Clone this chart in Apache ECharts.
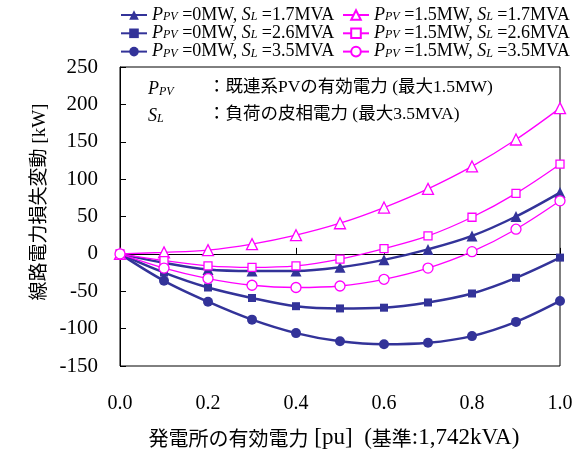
<!DOCTYPE html>
<html>
<head>
<meta charset="utf-8">
<script src="https://cdn.jsdelivr.net/npm/echarts@6/dist/echarts.min.js"></script>
<style>
  html, body { margin: 0; padding: 0; background: #fff; }
  #chart { width: 579px; height: 457px; }
</style>
</head>
<body>
<div id="chart"></div>
<script>
// Plant active power [pu]
const xValues = [0.0, 0.1, 0.2, 0.3, 0.4, 0.5, 0.6, 0.7, 0.8, 0.9, 1.0];

// Line loss variation [kW], PV = 0 MW
const pv0_sl17 = [0, -12, -21, -23, -23, -18, -8, 6, 24, 50, 82];
const pv0_sl26 = [0, -25, -45, -59, -70, -73, -72, -65, -53, -32, -5];
const pv0_sl35 = [0, -36, -64, -88, -106, -117, -121, -119, -110, -91, -63];

// Line loss variation [kW], PV = 1.5 MW
const pv15_sl17 = [0, 2, 5, 13, 25, 41, 62, 87, 117, 153, 195];
const pv15_sl26 = [0, -9, -16, -18, -16, -7, 7, 24, 49, 81, 120];
const pv15_sl35 = [0, -19, -33, -42, -45, -43, -34, -19, 3, 33, 71];

const yTicks = [-150, -100, -50, 0, 50, 100, 150, 200, 250];
const xTicks = [0.0, 0.2, 0.4, 0.6, 0.8, 1.0];

const legendNames = [
  '{i|P}{s|PV} =0MW, {i|S}{s|L} =1.7MVA',
  '{i|P}{s|PV} =0MW, {i|S}{s|L} =2.6MVA',
  '{i|P}{s|PV} =0MW, {i|S}{s|L} =3.5MVA',
  '{i|P}{s|PV} =1.5MW, {i|S}{s|L} =1.7MVA',
  '{i|P}{s|PV} =1.5MW, {i|S}{s|L} =2.6MVA',
  '{i|P}{s|PV} =1.5MW, {i|S}{s|L} =3.5MVA'
];

const SERIF = '"Liberation Serif", "Times New Roman", "Noto Sans CJK JP", serif';
const CJK = '"Noto Sans CJK JP", "Liberation Serif", sans-serif';
const NAVY = '#333399';
const MAGENTA = '#FF00FF';

const legendRich = {
  i: { fontFamily: SERIF, fontSize: 18, fontStyle: 'italic', color: '#000', lineHeight: 16 },
  s: { fontFamily: SERIF, fontSize: 12, fontStyle: 'italic', color: '#000', lineHeight: 9, verticalAlign: 'bottom' }
};
const noteRich = {
  i: { fontFamily: SERIF, fontSize: 18, fontStyle: 'italic', fill: '#000', lineHeight: 18 },
  s: { fontFamily: SERIF, fontSize: 12, fontStyle: 'italic', fill: '#000', lineHeight: 10, verticalAlign: 'bottom' }
};
const titleRich = {
  c: { fontFamily: CJK, fontSize: 20, fill: '#000', lineHeight: 24 },
  r: { fontFamily: SERIF, fontSize: 23, fill: '#000', lineHeight: 24 }
};

function pairs(ys) {
  return xValues.map((x, k) => [x, ys[k]]);
}

function navySeries(name, ys, symbol, size) {
  return {
    name, type: 'line', data: pairs(ys), smooth: 0.35,
    symbol, symbolSize: size,
    lineStyle: { color: NAVY, width: 2.5 },
    itemStyle: { color: NAVY, borderWidth: 0 },
    z: 2
  };
}
function magentaSeries(name, ys, symbol, size) {
  return {
    name, type: 'line', data: pairs(ys), smooth: 0.35,
    symbol, symbolSize: size,
    lineStyle: { color: MAGENTA, width: 1.3 },
    itemStyle: { color: '#fff', borderColor: MAGENTA, borderWidth: 1.3 },
    z: 3
  };
}

const legendCommon = {
  orient: 'vertical', padding: 0, itemWidth: 26, itemHeight: 12, itemGap: 0.3,
  textStyle: { fontFamily: SERIF, fontSize: 18, color: '#000', lineHeight: 16, rich: legendRich }
};

const chart = echarts.init(document.getElementById('chart'), null, { renderer: 'canvas' });

chart.setOption({
  animation: false,
  backgroundColor: '#fff',
  grid: {
    left: 120, top: 67, right: 19, bottom: 91,
    show: true, borderColor: '#000', borderWidth: 1, backgroundColor: 'transparent'
  },
  legend: [
    Object.assign({}, legendCommon, { left: 120, top: 6, data: legendNames.slice(0, 3) }),
    Object.assign({}, legendCommon, { left: 342, top: 6, data: legendNames.slice(3, 6) })
  ],
  xAxis: {
    type: 'value', min: 0, max: 1, interval: 0.2,
    axisLine: { show: true, lineStyle: { color: '#000', width: 1 } },
    axisTick: { show: true, inside: true, length: 6, lineStyle: { color: '#000' } },
    splitLine: { show: false },
    axisLabel: {
      margin: 28, fontFamily: SERIF, fontSize: 20, color: '#000',
      formatter: v => xTicks.some(t => Math.abs(t - v) < 1e-9) ? v.toFixed(1) : ''
    }
  },
  yAxis: {
    type: 'value', min: -150, max: 250, interval: 50,
    axisLine: { show: true, lineStyle: { color: '#000', width: 1 } },
    axisTick: { show: true, inside: true, length: 6, lineStyle: { color: '#000' } },
    splitLine: { show: false },
    axisLabel: {
      margin: 22, fontFamily: SERIF, fontSize: 21, color: '#000',
      formatter: v => yTicks.includes(v) ? String(v) : ''
    }
  },
  graphic: [
    {
      type: 'text', left: 148, top: 80,
      style: { text: '{i|P}{s|PV}', rich: noteRich }
    },
    {
      type: 'text', left: 208, top: 79,
      style: { text: '：既連系PVの有効電力 (最大1.5MW)', font: '17.5px ' + SERIF, fill: '#000' }
    },
    {
      type: 'text', left: 148, top: 107,
      style: { text: '{i|S}{s|L}', rich: noteRich }
    },
    {
      type: 'text', left: 208, top: 106,
      style: { text: '：負荷の皮相電力 (最大3.5MVA)', font: '17.5px ' + SERIF, fill: '#000' }
    },
    {
      type: 'text', x: 40, y: 202, rotation: Math.PI / 2,
      style: { text: '線路電力損失変動 [kW]', font: '19px ' + SERIF, fill: '#000', align: 'center', verticalAlign: 'middle' }
    },
    {
      type: 'text', x: 334, y: 438,
      style: {
        text: '{c|発電所の有効電力}{r| [pu]  (}{c|基準}{r|:1,742kVA)}',
        rich: titleRich, align: 'center', verticalAlign: 'middle'
      }
    }
  ],
  series: [
    navySeries(legendNames[0], pv0_sl17, 'triangle', 11),
    navySeries(legendNames[1], pv0_sl26, 'rect', 8),
    navySeries(legendNames[2], pv0_sl35, 'circle', 10),
    magentaSeries(legendNames[3], pv15_sl17, 'triangle', 11),
    magentaSeries(legendNames[4], pv15_sl26, 'rect', 8),
    magentaSeries(legendNames[5], pv15_sl35, 'circle', 10)
  ]
});
</script>
</body>
</html>
